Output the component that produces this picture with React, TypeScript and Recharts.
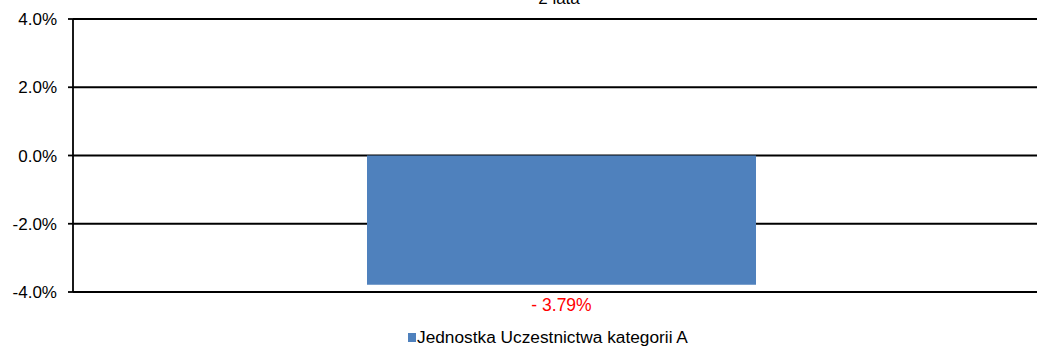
import { BarChart, Bar, XAxis, YAxis, CartesianGrid, LabelList, Customized } from "recharts";

const categories = ["2 lata"];
const fundValues = [-3.79];
const yTicks = [-4, -2, 0, 2, 4];
const seriesName = "Jednostka Uczestnictwa kategorii A";
const chartTitle = "2 lata";

const FONT = '"Liberation Sans", Arial, sans-serif';
const BAR_COLOR = "#4F81BD";

const data = categories.map((c, i) => ({ name: c, value: fundValues[i] }));

const fmtPct = (v: number) => `${v.toFixed(1)}%`;

// value label sits under the (negative) bar, red, with a spaced minus sign
function ValueLabel(props: any) {
  const { x, y, width, height, value } = props;
  const bottom = Math.max(y, y + height);
  const txt = value < 0 ? `- ${Math.abs(value).toFixed(2)}%` : `${value.toFixed(2)}%`;
  return (
    <text
      x={x + width / 2}
      y={bottom + 22}
      textAnchor="middle"
      dominantBaseline="middle"
      fill="#FF0000"
      fontSize={17.5}
      fontFamily={FONT}
    >
      {txt}
    </text>
  );
}

function TitleAndLegend(props: any) {
  const off = props.offset ?? { left: 73, width: 976 };
  const cx = off.left + off.width / 2;
  return (
    <g fontFamily={FONT}>
      <text x={cx - 2} y={4} textAnchor="middle" fontSize={17} fill="#000">
        {chartTitle}
      </text>
      <rect x={408} y={333} width={8} height={9} fill={BAR_COLOR} />
      <text x={417} y={338} dominantBaseline="middle" fontSize={17.3} fill="#000">
        {seriesName}
      </text>
    </g>
  );
}

export default function App() {
  return (
    <div style={{ position: "absolute", left: 0, top: 0, width: 1037, height: 347, overflow: "hidden", background: "#fff" }}>
      <BarChart
        width={1049}
        height={347}
        data={data}
        margin={{ top: 19, right: 0, bottom: 55, left: 0 }}
      >
        <CartesianGrid vertical={false} stroke="#000" strokeOpacity={1} strokeWidth={1.8} />
        <XAxis dataKey="name" hide />
        <YAxis
          width={73}
          domain={[-4, 4]}
          ticks={yTicks}
          tickFormatter={fmtPct}
          axisLine={{ stroke: "#000", strokeWidth: 1.8 }}
          tickLine={{ stroke: "#000", strokeWidth: 1.8 }}
          tickSize={5}
          tickMargin={11}
          tick={{ fill: "#000", fontSize: 17, fontFamily: FONT }}
          interval={0}
        />
        <Bar dataKey="value" fill={BAR_COLOR} barSize={389} isAnimationActive={false}>
          <LabelList dataKey="value" content={ValueLabel} />
        </Bar>
        <Customized component={TitleAndLegend} />
      </BarChart>
    </div>
  );
}
